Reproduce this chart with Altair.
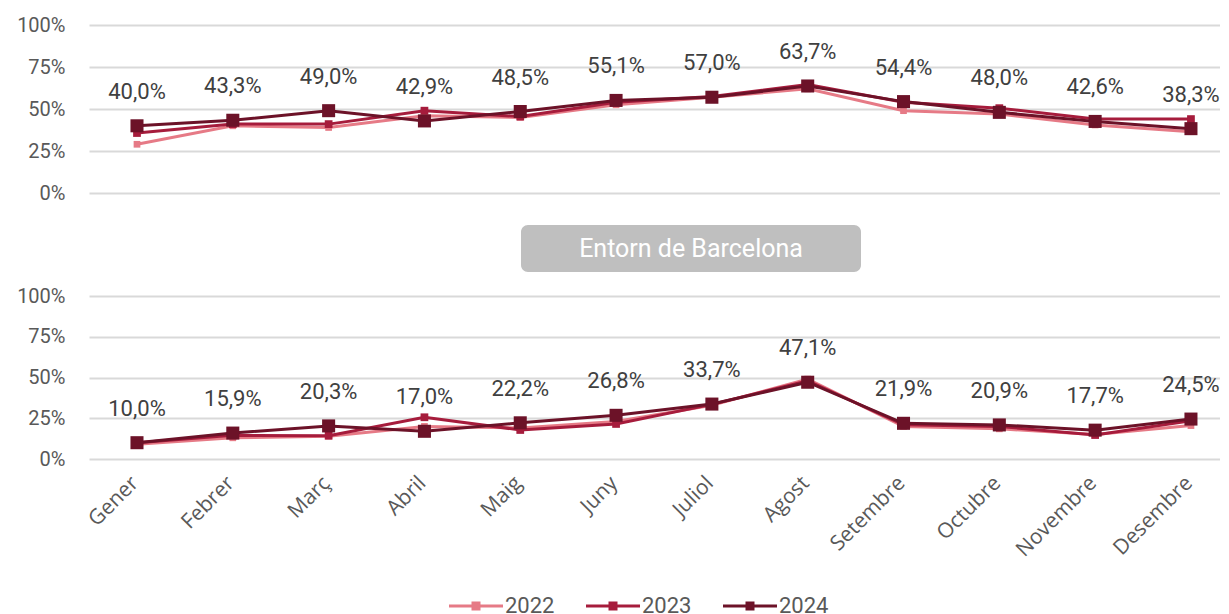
import altair as alt
import pandas as pd

months = ["Gener", "Febrer", "Març", "Abril", "Maig", "Juny", "Juliol",
          "Agost", "Setembre", "Octubre", "Novembre", "Desembre"]
years = ["2022", "2023", "2024"]
colors = ["#e67a86", "#a61c3c", "#6c1228"]

# Barcelona (top panel), % values
bcn_2022 = [29.0, 40.0, 39.0, 46.0, 45.0, 52.5, 57.0, 62.0, 49.0, 47.0, 40.5, 36.5]
bcn_2023 = [35.7, 41.0, 41.0, 49.0, 45.5, 54.0, 57.5, 64.5, 54.0, 50.5, 44.0, 44.0]
bcn_2024 = [40.0, 43.3, 49.0, 42.9, 48.5, 55.1, 57.0, 63.7, 54.4, 48.0, 42.6, 38.3]

# Entorn de Barcelona (bottom panel), % values
ent_2022 = [9.0, 13.0, 14.0, 20.0, 19.0, 23.0, 33.0, 49.0, 20.0, 18.5, 15.0, 20.5]
ent_2023 = [10.0, 14.5, 14.3, 25.6, 17.8, 21.5, 33.5, 48.0, 21.0, 20.0, 14.7, 23.5]
ent_2024 = [10.0, 15.9, 20.3, 17.0, 22.2, 26.8, 33.7, 47.1, 21.9, 20.9, 17.7, 24.5]

panel_title = "Entorn de Barcelona"
line_widths = [3, 3, 5]

series = {
    ("bcn", "2022"): bcn_2022, ("bcn", "2023"): bcn_2023, ("bcn", "2024"): bcn_2024,
    ("ent", "2022"): ent_2022, ("ent", "2023"): ent_2023, ("ent", "2024"): ent_2024,
}
rows = []
for (reg, yr), vals in series.items():
    for m, v in zip(months, vals):
        rows.append({"region": reg, "year": yr, "month": m, "v": v / 100.0,
                     "lbl": f"{v:.1f}".replace(".", ",") + "%"})
df = pd.DataFrame(rows)

FONT = "Roboto"
GRAY = "#595959"

legend = alt.Legend(
    title=None, orient="none", direction="horizontal",
    legendX=376, legendY=570,
    symbolType="M-6.75,0H6.75M-0.75,-0.75H0.75V0.75H-0.75Z", symbolSize=64,
    labelFontSize=22, labelFont=FONT, labelColor=GRAY,
    labelOffset=18, columnPadding=25,
)

color_enc = alt.Color("year:N", scale=alt.Scale(domain=years, range=colors), legend=legend)
sw_enc = alt.StrokeWidth("year:N", scale=alt.Scale(domain=years, range=line_widths), legend=legend)

pt_size = {"2022": 45, "2023": 60, "2024": 170}


def panel(region, height, show_x):
    if show_x:
        xaxis = alt.Axis(title=None, labelAngle=-45, labelAlign="right", labelBaseline="top",
                         labelFontSize=21, labelFont="Open Sans", labelColor=GRAY,
                         domain=False, ticks=False, grid=False, labelPadding=13,
                         labelOffset=-10)
    else:
        xaxis = None
    x = alt.X("month:N", sort=months,
              scale=alt.Scale(type="point", padding=0.402, align=0.623), axis=xaxis)
    y = alt.Y("v:Q", scale=alt.Scale(domain=[0, 1]),
              axis=alt.Axis(values=[0, 0.25, 0.5, 0.75, 1], format=".0%", title=None,
                            domain=False, ticks=False, labelPadding=24, labelFontSize=20,
                            labelFont=FONT, labelColor=GRAY, gridColor="#d9d9d9", gridWidth=2))
    layers = []
    for yr in years:
        base = alt.Chart(df).transform_filter(
            f"datum.region == '{region}' && datum.year == '{yr}'")
        layers.append(base.mark_line().encode(x=x, y=y, color=color_enc, strokeWidth=sw_enc))
        layers.append(base.mark_square(size=pt_size[yr], opacity=1).encode(x=x, y=y, color=color_enc))
    lab = alt.Chart(df).transform_filter(
        f"datum.region == '{region}' && datum.year == '2024'"
    ).mark_text(dy=-34, fontSize=22, font=FONT, color="#404040").encode(x=x, y=y, text="lbl:N")
    layers.append(lab)
    if region == "ent":
        tdf = pd.DataFrame({"t": [panel_title]})
        box = alt.Chart(tdf).mark_rect(color="#bfbfbf", cornerRadius=7).encode(
            x=alt.value(432), x2=alt.value(772), y=alt.value(-71), y2=alt.value(-24))
        ttxt = alt.Chart(tdf).mark_text(color="white", fontSize=25, font=FONT,
                                        align="center", baseline="middle").encode(
            x=alt.value(602), y=alt.value(-47), text="t:N")
        layers = [box, ttxt] + layers
    return alt.layer(*layers).properties(width=1131, height=height)


top = panel("bcn", 168, False)
bottom = panel("ent", 163, True)

chart = alt.vconcat(top, bottom, spacing=22).resolve_scale(
    color="shared", strokeWidth="shared"
).properties(
    padding={"left": 8, "top": 7, "right": 0, "bottom": 0}
).configure(background="white", view=alt.ViewConfig(strokeWidth=0))

chart.save("out.html", embed_options={"renderer": "svg", "actions": False})
